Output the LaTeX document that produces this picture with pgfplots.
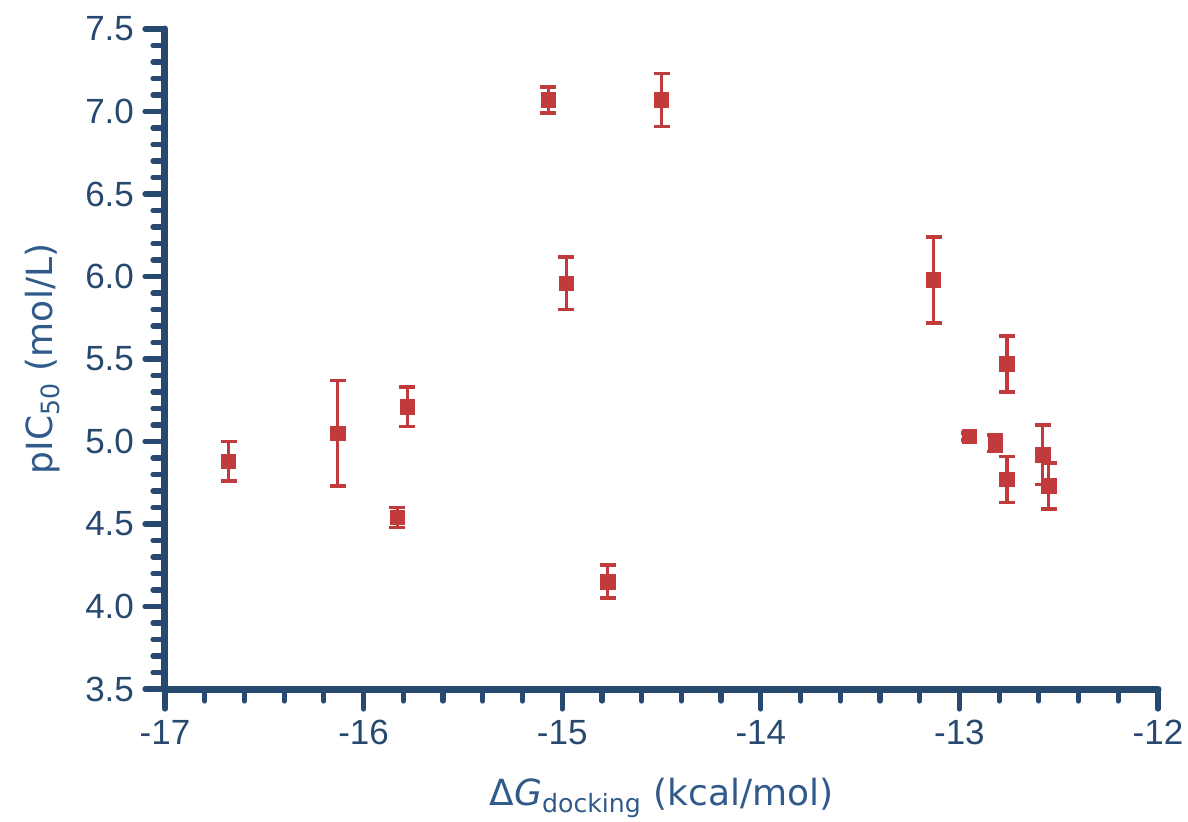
\documentclass[border=0pt]{standalone}
\usepackage{pgfplots}
\pgfplotsset{compat=1.18}
\usepackage{fontspec}
\setmainfont{Liberation Sans}
\newfontfamily\labfont{DejaVu Sans}
\definecolor{axblue}{HTML}{28496F}
\definecolor{labblue}{HTML}{2F5A8A}
\definecolor{ptred}{HTML}{C13A3C}

\begin{document}
\begin{tikzpicture}
\begin{axis}[
  scale only axis,
  width=496.5pt, height=330pt,
  xmin=-17, xmax=-12, ymin=3.5, ymax=7.5,
  axis x line*=bottom,
  axis y line*=left,
  axis line style={axblue, line width=3.5pt, line cap=round, -},
  xtick={-17,-16,-15,-14,-13,-12},
  xticklabels={-17,-16,-15,-14,-13,-12},
  ytick={3.5,4,4.5,5,5.5,6,6.5,7,7.5},
  minor x tick num=4,
  minor y tick num=4,
  tick align=outside,
  major tick length=10pt,
  minor tick length=6pt,
  tick style={axblue, line cap=round},
  major tick style={line width=2.6pt},
  minor tick style={line width=2.6pt},
  /pgf/number format/fixed,
  /pgf/number format/fixed zerofill,
  /pgf/number format/precision=1,
  /pgf/number format/assume math mode=true,
  ticklabel style={font=\fontsize{17.5}{20}\selectfont, text=axblue},
  xticklabel style={yshift=-2pt},
  yticklabel style={xshift=-2pt},
  xlabel={\labfont Δ\textit{G}\textsubscript{docking} (kcal/mol)},
  ylabel={\labfont pIC\textsubscript{50} (mol/L)},
  label style={font=\fontsize{18}{21}\selectfont, text=labblue},
  xlabel style={at={(axis description cs:0.5,0)}, anchor=base, yshift=-58pt},
  ylabel style={at={(axis description cs:0,0.5)}, anchor=center, yshift=61pt},
  clip=false,
]
\coordinate (ll) at (rel axis cs:0,0);
\coordinate (ur) at (rel axis cs:1,1);
\addplot[
  only marks,
  mark=square*,
  mark size=3.6pt,
  color=ptred,
  error bars/.cd,
    y dir=both, y explicit,
    error bar style={line width=1.6pt, ptred},
    error mark options={rotate=90, mark size=4pt, line width=1.8pt, ptred},
] table[x=x, y=y, y error=e] {
x       y      e
-16.68  4.88   0.12
-16.13  5.05   0.32
-15.78  5.21   0.12
-15.83  4.54   0.06
-15.07  7.07   0.08
-14.50  7.07   0.16
-14.98  5.96   0.16
-14.77  4.15   0.10
-13.13  5.98   0.26
-12.76  5.47   0.17
-12.95  5.03   0.02
-12.82  4.99   0.05
-12.76  4.77   0.14
-12.58  4.92   0.18
-12.55  4.73   0.14
};
\end{axis}
\pgfresetboundingbox
\useasboundingbox ([shift={(-82.5pt,-66pt)}]ll) rectangle ([shift={(15pt,14.5pt)}]ur);
\end{tikzpicture}
\end{document}
